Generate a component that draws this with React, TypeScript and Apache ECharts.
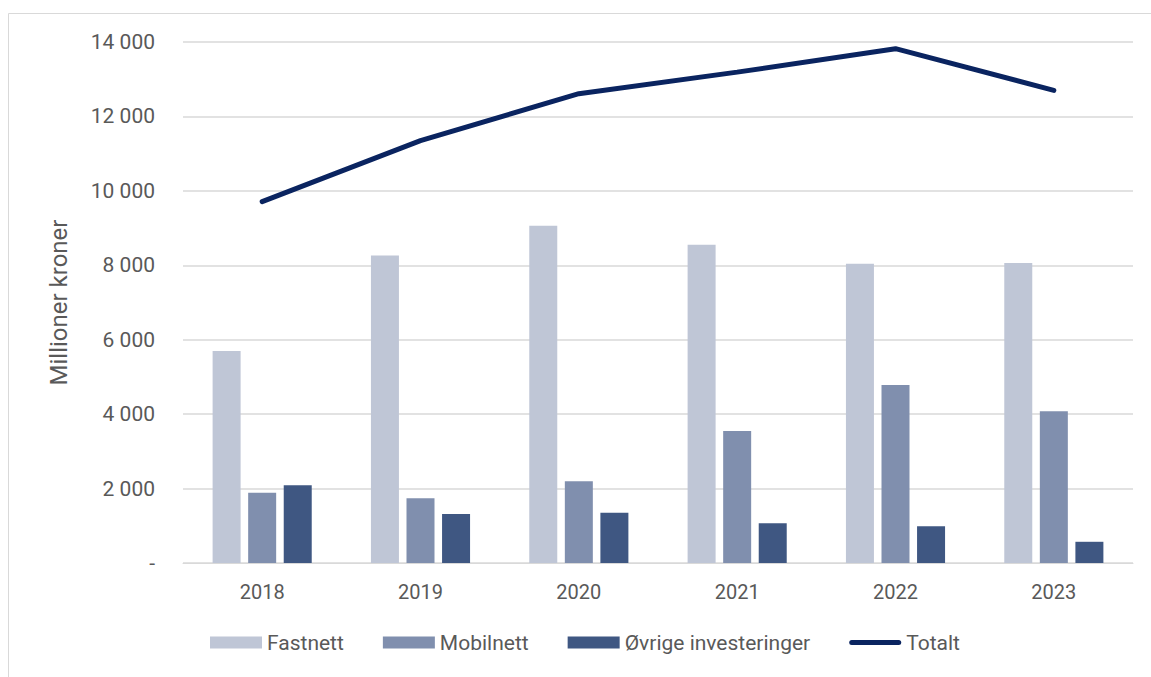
import React, { useEffect, useRef } from "react";
import * as echarts from "echarts";

const years = ["2018", "2019", "2020", "2021", "2022", "2023"];
const fastnett = [5700, 8260, 9060, 8550, 8040, 8060];
const mobilnett = [1890, 1740, 2200, 3550, 4780, 4080];
const ovrige = [2090, 1320, 1350, 1070, 990, 570];
const totalt = [9710, 11350, 12610, 13190, 13820, 12700];

const FONT = "Roboto";
const TXT = "#595959";

export default function App() {
  const ref = useRef<HTMLDivElement>(null);
  useEffect(() => {
    const chart = echarts.init(ref.current!, null, { renderer: "svg" });
    chart.setOption({
      animation: false,
      backgroundColor: "#ffffff",
      textStyle: { fontFamily: FONT },
      graphic: [
        {
          type: "rect",
          shape: { x: 8.5, y: 13.5, width: 1160, height: 700 },
          style: { fill: "none", stroke: "#D9D9D9", lineWidth: 1 },
          silent: true,
        },
      ],
      grid: { left: 183, right: 18, top: 42, bottom: 114, containLabel: false },
      legend: {
        bottom: 19,
        left: 205,
        itemWidth: 52,
        itemHeight: 12,
        itemGap: 39,
        textStyle: { fontSize: 21, color: TXT, fontFamily: FONT, padding: [0, 0, 0, 0] },
        data: [
          { name: "Fastnett", icon: "rect" },
          { name: "Mobilnett", icon: "rect" },
          { name: "Øvrige investeringer", icon: "rect" },
          { name: "Totalt", icon: "path://M2.5 0 H49.5 A2.5 2.5 0 0 1 49.5 5 H2.5 A2.5 2.5 0 0 1 2.5 0 Z" },
        ],
      },
      xAxis: {
        type: "category",
        data: years,
        axisLine: { lineStyle: { color: "#D9D9D9" } },
        axisTick: { show: false },
        axisLabel: { color: TXT, fontSize: 20, margin: 19, fontFamily: FONT },
      },
      yAxis: {
        type: "value",
        min: 0,
        max: 14000,
        interval: 2000,
        name: "Millioner kroner",
        nameLocation: "middle",
        nameGap: 112,
        nameRotate: 90,
        nameTextStyle: { color: TXT, fontSize: 24, fontFamily: FONT },
        axisLine: { show: false },
        axisTick: { show: false },
        splitLine: { lineStyle: { color: "#D9D9D9", width: 1.5 } },
        axisLabel: {
          color: TXT,
          fontSize: 21,
          margin: 28,
          fontFamily: FONT,
          formatter: (v: number) =>
            v === 0 ? "-" : String(v).replace(/\B(?=(\d{3})+(?!\d))/g, " "),
        },
      },
      series: [
        {
          name: "Fastnett",
          type: "bar",
          data: fastnett,
          barWidth: 28,
          barGap: "27%",
          itemStyle: { color: "#BFC6D6" },
        },
        {
          name: "Mobilnett",
          type: "bar",
          data: mobilnett,
          barWidth: 28,
          barGap: "27%",
          itemStyle: { color: "#808FAE" },
        },
        {
          name: "Øvrige investeringer",
          type: "bar",
          data: ovrige,
          barWidth: 28,
          barGap: "27%",
          itemStyle: { color: "#3F5782" },
        },
        {
          name: "Totalt",
          type: "line",
          data: totalt,
          symbol: "none",
          lineStyle: { color: "#0A2460", width: 5, cap: "round" },
          itemStyle: { color: "#0A2460" },
        },
      ],
    });
    return () => chart.dispose();
  }, []);
  return (
    <div
      ref={ref}
      style={{ position: "absolute", left: 0, top: 0, width: 1151, height: 677 }}
    />
  );
}
